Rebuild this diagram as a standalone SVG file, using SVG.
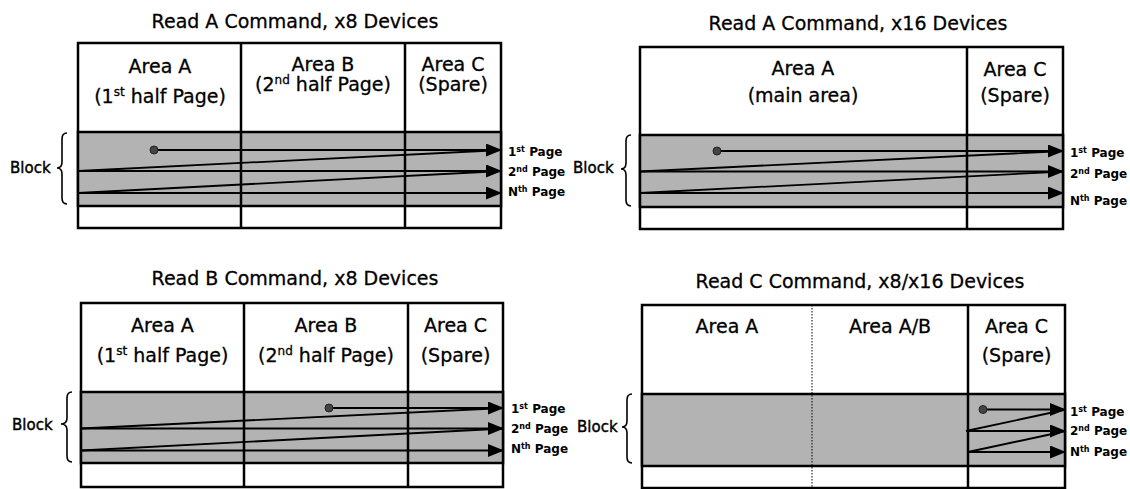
<svg xmlns="http://www.w3.org/2000/svg" width="1130" height="489" viewBox="0 0 1130 489">
<defs>
<marker id="arr" markerUnits="userSpaceOnUse" markerWidth="16" markerHeight="13" refX="16" refY="6.5" orient="auto">
<path d="M0,0 L16,6.5 L0,13 z" fill="#000"/>
</marker>
<style>
text{font-family:"DejaVu Sans","Verdana",sans-serif;fill:#000}
.title{font-size:19px;text-anchor:middle;stroke:#000;stroke-width:0.3}
.cell{font-size:19px;text-anchor:middle;stroke:#000;stroke-width:0.3}
.sup{font-size:12px}
.lbl{font-size:12px;font-weight:bold}
.lsup{font-size:8px}
.blk{font-size:15px;stroke:#000;stroke-width:0.4}
.frame{fill:#fff;stroke:#000;stroke-width:2.5}
.band{fill:#b3b3b3;stroke:#000;stroke-width:2.5}
.div{stroke:#000;stroke-width:2.5;fill:none}
.dot-div{stroke:#000;stroke-width:1;stroke-dasharray:1.5 1.5;fill:none}
.ln{stroke:#000;stroke-width:1.8;fill:none}
.arw{stroke:#000;stroke-width:1.8;fill:none;marker-end:url(#arr)}
.brace{stroke:#000;stroke-width:1.6;fill:none}
.dot{fill:#444;stroke:#222;stroke-width:1}
</style>
</defs>

<!-- Panel 1 -->
<g id="panel1">
<text class="title" x="295" y="28">Read A Command, x8 Devices</text>
<g id="p1-frame">
<rect class="frame" x="78" y="43" width="423" height="185"/>
<rect class="band" x="78" y="132" width="423" height="74"/>
<line class="div" x1="241" y1="43" x2="241" y2="228"/>
<line class="div" x1="405" y1="43" x2="405" y2="228"/>
</g>
<g id="p1-areaA">
<text class="cell" x="160" y="73">Area A</text>
<text class="cell" x="160" y="103">(1<tspan class="sup" dy="-7">st</tspan><tspan dy="7"> half Page)</tspan></text>
</g>
<g id="p1-areaB">
<text class="cell" x="323" y="71">Area B</text>
<text class="cell" x="323" y="91">(2<tspan class="sup" dy="-7">nd</tspan><tspan dy="7"> half Page)</tspan></text>
</g>
<g id="p1-areaC">
<text class="cell" x="453" y="71">Area C</text>
<text class="cell" x="453" y="91">(Spare)</text>
</g>
<g id="p1-block">
<text class="blk" x="10" y="173">Block</text>
<path class="brace" d="M67,133 Q62,133 62,139 L62,162 Q62,168 57,168 Q62,168 62,174 L62,198 Q62,204 67,204"/>
</g>
<g id="p1-labels">
<text class="lbl" x="508" y="156">1<tspan class="lsup" dy="-4">st</tspan><tspan dy="4"> Page</tspan></text>
<text class="lbl" x="508" y="176">2<tspan class="lsup" dy="-4">nd</tspan><tspan dy="4"> Page</tspan></text>
<text class="lbl" x="508" y="196">N<tspan class="lsup" dy="-4">th</tspan><tspan dy="4"> Page</tspan></text>
</g>
<g id="p1-connectors">
<line class="arw" x1="154" y1="150" x2="502" y2="150"/>
<line class="ln" x1="78" y1="171" x2="502" y2="150"/>
<line class="arw" x1="78" y1="171" x2="502" y2="171"/>
<line class="ln" x1="78" y1="193" x2="502" y2="171"/>
<line class="arw" x1="78" y1="193" x2="502" y2="193"/>
<circle class="dot" cx="154" cy="150" r="4"/>
</g>
</g>

<!-- Panel 2 -->
<g id="panel2">
<text class="title" x="858" y="30">Read A Command, x16 Devices</text>
<g id="p2-frame">
<rect class="frame" x="640" y="47" width="423" height="182"/>
<rect class="band" x="640" y="135" width="423" height="72"/>
<line class="div" x1="967" y1="47" x2="967" y2="229"/>
</g>
<g id="p2-areaA">
<text class="cell" x="803" y="75">Area A</text>
<text class="cell" x="803" y="102">(main area)</text>
</g>
<g id="p2-areaC">
<text class="cell" x="1015" y="76">Area C</text>
<text class="cell" x="1015" y="102">(Spare)</text>
</g>
<g id="p2-block">
<text class="blk" x="573" y="173">Block</text>
<path class="brace" d="M631,135 Q626,135 626,141 L626,163 Q626,169 621,169 Q626,169 626,175 L626,200 Q626,206 631,206"/>
</g>
<g id="p2-labels">
<text class="lbl" x="1070" y="157">1<tspan class="lsup" dy="-4">st</tspan><tspan dy="4"> Page</tspan></text>
<text class="lbl" x="1070" y="178">2<tspan class="lsup" dy="-4">nd</tspan><tspan dy="4"> Page</tspan></text>
<text class="lbl" x="1070" y="205">N<tspan class="lsup" dy="-4">th</tspan><tspan dy="4"> Page</tspan></text>
</g>
<g id="p2-connectors">
<line class="arw" x1="717" y1="151" x2="1064" y2="151"/>
<line class="ln" x1="640" y1="171.5" x2="1064" y2="151"/>
<line class="arw" x1="640" y1="171.5" x2="1064" y2="171.5"/>
<line class="ln" x1="640" y1="193" x2="1064" y2="171.5"/>
<line class="arw" x1="640" y1="193" x2="1064" y2="193"/>
<circle class="dot" cx="717" cy="151" r="4"/>
</g>
</g>

<!-- Panel 3 -->
<g id="panel3">
<text class="title" x="295" y="285">Read B Command, x8 Devices</text>
<g id="p3-frame">
<rect class="frame" x="81" y="303" width="422" height="184"/>
<rect class="band" x="81" y="392" width="422" height="71"/>
<line class="div" x1="244" y1="303" x2="244" y2="487"/>
<line class="div" x1="408" y1="303" x2="408" y2="487"/>
</g>
<g id="p3-areaA">
<text class="cell" x="162.5" y="332">Area A</text>
<text class="cell" x="162.5" y="362">(1<tspan class="sup" dy="-7">st</tspan><tspan dy="7"> half Page)</tspan></text>
</g>
<g id="p3-areaB">
<text class="cell" x="326" y="332">Area B</text>
<text class="cell" x="326" y="362">(2<tspan class="sup" dy="-7">nd</tspan><tspan dy="7"> half Page)</tspan></text>
</g>
<g id="p3-areaC">
<text class="cell" x="455.5" y="332">Area C</text>
<text class="cell" x="455.5" y="362">(Spare)</text>
</g>
<g id="p3-block">
<text class="blk" x="12" y="430">Block</text>
<path class="brace" d="M72,392 Q67,392 67,398 L67,418 Q67,424 61,424 Q67,424 67,430 L67,456 Q67,462 72,462"/>
</g>
<g id="p3-labels">
<text class="lbl" x="511" y="413">1<tspan class="lsup" dy="-4">st</tspan><tspan dy="4"> Page</tspan></text>
<text class="lbl" x="511" y="433">2<tspan class="lsup" dy="-4">nd</tspan><tspan dy="4"> Page</tspan></text>
<text class="lbl" x="511" y="453">N<tspan class="lsup" dy="-4">th</tspan><tspan dy="4"> Page</tspan></text>
</g>
<g id="p3-connectors">
<line class="arw" x1="329" y1="408" x2="504" y2="408"/>
<line class="ln" x1="81" y1="428.5" x2="504" y2="408"/>
<line class="arw" x1="81" y1="428.5" x2="504" y2="428.5"/>
<line class="ln" x1="81" y1="450.5" x2="504" y2="428.5"/>
<line class="arw" x1="81" y1="450.5" x2="504" y2="450.5"/>
<circle class="dot" cx="329" cy="408" r="4"/>
</g>
</g>

<!-- Panel 4 -->
<g id="panel4">
<text class="title" x="860" y="288">Read C Command, x8/x16 Devices</text>
<g id="p4-frame">
<rect class="frame" x="642" y="305" width="423" height="183"/>
<rect class="band" x="642" y="394" width="423" height="72"/>
<line class="dot-div" x1="812" y1="305" x2="812" y2="488"/>
<line class="div" x1="968" y1="305" x2="968" y2="488"/>
</g>
<g id="p4-areaA">
<text class="cell" x="727" y="333">Area A</text>
</g>
<g id="p4-areaAB">
<text class="cell" x="890" y="333">Area A/B</text>
</g>
<g id="p4-areaC">
<text class="cell" x="1016.5" y="333">Area C</text>
<text class="cell" x="1016.5" y="362">(Spare)</text>
</g>
<g id="p4-block">
<text class="blk" x="577" y="432">Block</text>
<path class="brace" d="M632,394 Q627,394 627,400 L627,421 Q627,427 622,427 Q627,427 627,433 L627,457 Q627,463 632,463"/>
</g>
<g id="p4-labels">
<text class="lbl" x="1070" y="416">1<tspan class="lsup" dy="-4">st</tspan><tspan dy="4"> Page</tspan></text>
<text class="lbl" x="1070" y="435">2<tspan class="lsup" dy="-4">nd</tspan><tspan dy="4"> Page</tspan></text>
<text class="lbl" x="1070" y="456">N<tspan class="lsup" dy="-4">th</tspan><tspan dy="4"> Page</tspan></text>
</g>
<g id="p4-connectors">
<line class="arw" x1="983" y1="409.5" x2="1066" y2="409.5"/>
<line class="ln" x1="966" y1="431" x2="1066" y2="409.5"/>
<line class="arw" x1="966" y1="431" x2="1066" y2="431"/>
<line class="ln" x1="968" y1="452" x2="1066" y2="431"/>
<line class="arw" x1="968" y1="452" x2="1066" y2="452"/>
<circle class="dot" cx="983" cy="409.5" r="4"/>
</g>
</g>
</svg>
